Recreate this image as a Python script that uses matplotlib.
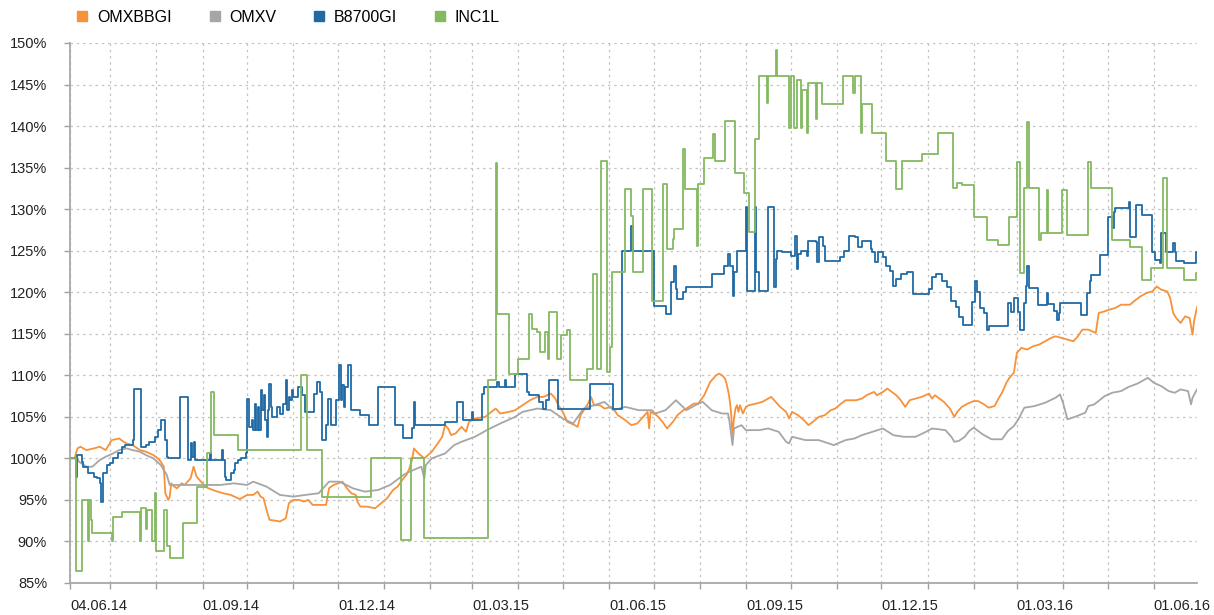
import matplotlib
matplotlib.use("Agg")
import matplotlib.pyplot as plt
import matplotlib.transforms as mtransforms
from matplotlib.lines import Line2D
import pandas as pd

plt.rcParams['font.family'] = ['Liberation Sans', 'DejaVu Sans']

# ---- data (values in %, dates dd.mm.yy) ----
omxbbgi_dates = [
    "04.06.14", "07.06.14", "09.06.14", "11.06.14", "15.06.14", "20.06.14", "24.06.14", "28.06.14",
    "02.07.14", "07.07.14", "10.07.14", "12.07.14", "16.07.14", "21.07.14", "25.07.14", "30.07.14",
    "02.08.14", "04.08.14", "06.08.14", "07.08.14", "09.08.14", "10.08.14", "11.08.14", "13.08.14",
    "15.08.14", "18.08.14", "20.08.14", "24.08.14", "26.08.14", "28.08.14", "01.09.14", "03.09.14",
    "05.09.14", "08.09.14", "11.09.14", "15.09.14", "20.09.14", "26.09.14", "01.10.14", "05.10.14",
    "08.10.14", "10.10.14", "12.10.14", "14.10.14", "16.10.14", "20.10.14", "23.10.14", "27.10.14",
    "29.10.14", "01.11.14", "05.11.14", "08.11.14", "11.11.14", "14.11.14", "23.11.14", "25.11.14",
    "28.11.14", "04.12.14", "07.12.14", "10.12.14", "13.12.14", "14.12.14", "16.12.14", "20.12.14",
    "26.12.14", "30.12.14", "03.01.15", "07.01.15", "10.01.15", "14.01.15", "16.01.15", "18.01.15",
    "20.01.15", "21.01.15", "24.01.15", "28.01.15", "02.02.15", "06.02.15", "09.02.15", "11.02.15",
    "13.02.15", "15.02.15", "18.02.15", "22.02.15", "25.02.15", "27.02.15", "03.03.15", "10.03.15",
    "14.03.15", "17.03.15", "20.03.15", "26.03.15", "30.03.15", "04.04.15", "09.04.15", "14.04.15",
    "18.04.15", "23.04.15", "26.04.15", "28.04.15", "01.05.15", "04.05.15", "09.05.15", "11.05.15",
    "13.05.15", "18.05.15", "20.05.15", "22.05.15", "26.05.15", "29.05.15", "03.06.15", "07.06.15",
    "12.06.15", "16.06.15", "20.06.15", "24.06.15", "27.06.15", "28.06.15", "29.06.15", "03.07.15",
    "07.07.15", "10.07.15", "14.07.15", "17.07.15", "21.07.15", "23.07.15", "28.07.15", "31.07.15",
    "04.08.15", "06.08.15", "08.08.15", "12.08.15", "14.08.15", "16.08.15", "18.08.15", "19.08.15",
    "20.08.15", "21.08.15", "22.08.15", "23.08.15", "24.08.15", "25.08.15", "26.08.15", "27.08.15",
    "28.08.15", "30.08.15", "01.09.15", "03.09.15", "08.09.15", "12.09.15", "18.09.15", "21.09.15",
    "24.09.15", "28.09.15", "30.09.15", "02.10.15", "06.10.15", "10.10.15", "13.10.15", "16.10.15",
    "20.10.15", "24.10.15", "28.10.15", "31.10.15", "04.11.15", "07.11.15", "11.11.15", "14.11.15",
    "18.11.15", "21.11.15", "26.11.15", "28.11.15", "02.12.15", "05.12.15", "08.12.15", "11.12.15",
    "14.12.15", "17.12.15", "20.12.15", "24.12.15", "28.12.15", "02.01.16", "04.01.16", "06.01.16",
    "09.01.16", "12.01.16", "16.01.16", "19.01.16", "21.01.16", "24.01.16", "28.01.16", "01.02.16",
    "04.02.16", "08.02.16", "11.02.16", "15.02.16", "18.02.16", "20.02.16", "23.02.16", "25.02.16",
    "28.02.16", "01.03.16", "04.03.16", "08.03.16", "12.03.16", "16.03.16", "20.03.16", "24.03.16",
    "27.03.16", "31.03.16", "04.04.16", "08.04.16", "11.04.16", "14.04.16", "18.04.16", "23.04.16",
    "25.04.16", "29.04.16", "02.05.16", "06.05.16", "10.05.16", "16.05.16", "20.05.16", "23.05.16",
    "27.05.16", "31.05.16", "03.06.16", "06.06.16", "10.06.16", "12.06.16", "14.06.16", "16.06.16",
    "19.06.16", "22.06.16", "25.06.16", "27.06.16", "28.06.16", "30.06.16",
]
omxbbgi_values = [
    100, 100, 101.2, 101.4, 101, 101.2, 101.4, 101,
    102.2, 102.4, 102, 101.8, 101.6, 101, 100.8, 100.4,
    100, 99.6, 99, 95.8, 95, 95.4, 97, 96.6,
    96.4, 97, 96.8, 97.6, 99, 97.8, 97, 96.6,
    96.4, 96.2, 96, 95.8, 95.6, 95.1, 95.6, 95.6,
    96, 95.4, 95.2, 93.8, 92.6, 92.5, 92.4, 92.8,
    94.6, 95, 95, 94.8, 95, 94.4, 94.4, 96.4,
    96.8, 97.2, 96.4, 95.8, 95.6, 94.8, 94.2, 94.2,
    94, 94.6, 95.2, 96.2, 96.6, 97.6, 98, 98.8,
    100, 101.2, 100.6, 100, 100.8, 101.8, 102.6, 104,
    103.6, 102.8, 103, 103.8, 103.2, 104.4, 104.8, 105,
    105.6, 106, 105.4, 105.6, 105.8, 106.4, 107, 107.4,
    107.4, 107.8, 107.2, 106.4, 105.6, 104.4, 104, 103.8,
    105.2, 106.6, 107.4, 106.4, 106.4, 106, 106.2, 105.2,
    104.6, 104, 104.2, 105, 105.6, 103.6, 105.6, 105.2,
    104.4, 103.6, 104.4, 105.2, 105.8, 106, 106.6, 106.6,
    107.6, 108.4, 109.2, 110, 110.2, 110, 109.6, 109,
    108.2, 107.2, 105.6, 102.8, 104.8, 106, 106.4, 105.6,
    106.4, 105.4, 106.2, 106.4, 106.6, 106.8, 107.4, 106.8,
    106.2, 105.6, 104.8, 105.6, 105.2, 104.6, 104, 104.4,
    105, 105.2, 105.8, 106, 106.6, 107, 107, 107,
    107.2, 107.6, 108, 107.6, 108, 108.4, 108, 107.6,
    107, 106.2, 107, 107.2, 107.4, 107.8, 107.2, 107.6,
    107.2, 106.8, 106, 105, 105.6, 106.2, 106.6, 106.9,
    106.9, 106.5, 106.1, 106.3, 107.3, 107.9, 109.1, 109.7,
    110.3, 112.7, 113.3, 113.1, 113.5, 113.7, 114.1, 114.5,
    114.7, 114.5, 114.3, 114.1, 114.7, 115.5, 115.5, 115.1,
    117.5, 117.7, 117.9, 118.1, 118.5, 118.5, 119.1, 119.5,
    119.9, 120.1, 120.7, 120.3, 120.1, 119.3, 117.5, 116.9,
    116.3, 117.1, 116.9, 114.9, 116.5, 118.2,
]

omxv_dates = [
    "04.06.14", "09.06.14", "10.06.14", "15.06.14", "19.06.14", "24.06.14", "28.06.14", "03.07.14",
    "07.07.14", "12.07.14", "16.07.14", "21.07.14", "25.07.14", "30.07.14", "04.08.14", "08.08.14",
    "10.08.14", "17.08.14", "26.08.14", "04.09.14", "13.09.14", "22.09.14", "01.10.14", "05.10.14",
    "14.10.14", "23.10.14", "01.11.14", "09.11.14", "18.11.14", "25.11.14", "02.12.14", "11.12.14",
    "19.12.14", "28.12.14", "05.01.15", "14.01.15", "18.01.15", "26.01.15", "28.01.15", "29.01.15",
    "02.02.15", "11.02.15", "17.02.15", "22.02.15", "03.03.15", "11.03.15", "20.03.15", "30.03.15",
    "04.04.15", "14.04.15", "23.04.15", "01.05.15", "08.05.15", "15.05.15", "22.05.15", "29.05.15",
    "04.06.15", "12.06.15", "21.06.15", "30.06.15", "02.07.15", "09.07.15", "16.07.15", "23.07.15",
    "29.07.15", "03.08.15", "09.08.15", "16.08.15", "20.08.15", "21.08.15", "23.08.15", "24.08.15",
    "29.08.15", "01.09.15", "10.09.15", "16.09.15", "23.09.15", "28.09.15", "30.09.15", "02.10.15",
    "11.10.15", "20.10.15", "30.10.15", "07.11.15", "13.11.15", "18.11.15", "25.11.15", "02.12.15",
    "09.12.15", "16.12.15", "24.12.15", "31.12.15", "04.01.16", "13.01.16", "17.01.16", "19.01.16",
    "22.01.16", "26.01.16", "29.01.16", "01.02.16", "07.02.16", "13.02.16", "20.02.16", "24.02.16",
    "28.02.16", "02.03.16", "06.03.16", "13.03.16", "20.03.16", "27.03.16", "30.03.16", "01.04.16",
    "04.04.16", "09.04.16", "16.04.16", "18.04.16", "22.04.16", "29.04.16", "04.05.16", "10.05.16",
    "15.05.16", "21.05.16", "28.05.16", "01.06.16", "06.06.16", "11.06.16", "15.06.16", "19.06.16",
    "24.06.16", "26.06.16", "27.06.16", "30.06.16",
]
omxv_values = [
    100, 100, 99.6, 99, 99, 99.8, 100.2, 100.6,
    101, 101.2, 101, 100.8, 100.4, 100, 99.2, 98,
    96.8, 96.8, 96.8, 96.8, 96.8, 97, 96.8, 97.2,
    96.6, 95.6, 95.4, 95.6, 95.8, 97.2, 97.2, 96.4,
    96, 96.2, 96.8, 98, 98.4, 99, 97.6, 99.2,
    100, 100.6, 101.6, 102, 102.6, 103.4, 104.2, 105,
    105.6, 106, 105.8, 104.8, 104.2, 106, 106.4, 106.8,
    105.8, 106.2, 105.8, 105.8, 105.4, 105.8, 107, 105.8,
    106.4, 106.8, 105.8, 105.4, 105.4, 104.4, 101.6, 103.6,
    104, 103.4, 103.4, 103.6, 103.2, 102, 101.8, 102.6,
    102.2, 102.2, 101.6, 102.2, 102.4, 102.8, 103.2, 103.6,
    102.8, 102.6, 102.6, 103.2, 103.6, 103.4, 102.6, 102,
    102.1, 102.6, 103.3, 103.7, 102.9, 102.3, 102.3, 103.3,
    103.9, 104.7, 106.1, 106.3, 106.7, 107.3, 107.7, 106.7,
    104.7, 105, 105.5, 106.3, 106.5, 107.5, 107.9, 108.1,
    108.6, 109, 109.7, 109.1, 108.7, 108.1, 107.9, 108.3,
    108.1, 106.5, 107.3, 108.3,
]

b8700gi_dates = [
    "04.06.14", "08.06.14", "09.06.14", "12.06.14", "13.06.14", "16.06.14", "20.06.14", "22.06.14",
    "24.06.14", "25.06.14", "26.06.14", "29.06.14", "01.07.14", "03.07.14", "06.07.14", "09.07.14",
    "11.07.14", "16.07.14", "17.07.14", "22.07.14", "25.07.14", "27.07.14", "31.07.14", "02.08.14",
    "04.08.14", "07.08.14", "08.08.14", "09.08.14", "17.08.14", "22.08.14", "24.08.14", "25.08.14",
    "26.08.14", "27.08.14", "06.09.14", "07.09.14", "14.09.14", "15.09.14", "16.09.14", "17.09.14",
    "20.09.14", "22.09.14", "23.09.14", "25.09.14", "27.09.14", "30.09.14", "01.10.14", "02.10.14",
    "04.10.14", "05.10.14", "06.10.14", "07.10.14", "08.10.14", "09.10.14", "10.10.14", "11.10.14",
    "12.10.14", "13.10.14", "14.10.14", "15.10.14", "16.10.14", "17.10.14", "18.10.14", "21.10.14",
    "23.10.14", "25.10.14", "27.10.14", "28.10.14", "29.10.14", "30.10.14", "31.10.14", "01.11.14",
    "04.11.14", "07.11.14", "09.11.14", "15.11.14", "17.11.14", "19.11.14", "20.11.14", "23.11.14",
    "24.11.14", "26.11.14", "30.11.14", "02.12.14", "03.12.14", "04.12.14", "05.12.14", "06.12.14",
    "08.12.14", "10.12.14", "16.12.14", "22.12.14", "28.12.14", "08.01.15", "14.01.15", "20.01.15",
    "21.01.15", "22.01.15", "11.02.15", "19.02.15", "23.02.15", "01.03.15", "02.03.15", "08.03.15",
    "09.03.15", "18.03.15", "19.03.15", "23.03.15", "24.03.15", "30.03.15", "07.04.15", "08.04.15",
    "15.04.15", "18.04.15", "20.04.15", "22.04.15", "28.04.15", "19.05.15", "04.06.15", "10.06.15",
    "16.06.15", "17.06.15", "01.07.15", "09.07.15", "13.07.15", "15.07.15", "16.07.15", "17.07.15",
    "21.07.15", "23.07.15", "09.08.15", "17.08.15", "20.08.15", "21.08.15", "23.08.15", "24.08.15",
    "26.08.15", "01.09.15", "02.09.15", "07.09.15", "08.09.15", "10.09.15", "16.09.15", "20.09.15",
    "21.09.15", "22.09.15", "25.09.15", "01.10.15", "04.10.15", "05.10.15", "06.10.15", "08.10.15",
    "12.10.15", "13.10.15", "18.10.15", "19.10.15", "20.10.15", "23.10.15", "24.10.15", "03.11.15",
    "06.11.15", "09.11.15", "13.11.15", "15.11.15", "18.11.15", "24.11.15", "25.11.15", "27.11.15",
    "29.11.15", "02.12.15", "04.12.15", "07.12.15", "09.12.15", "11.12.15", "14.12.15", "18.12.15",
    "22.12.15", "02.01.16", "04.01.16", "07.01.16", "11.01.16", "14.01.16", "17.01.16", "20.01.16",
    "22.01.16", "25.01.16", "31.01.16", "02.02.16", "03.02.16", "05.02.16", "08.02.16", "10.02.16",
    "11.02.16", "24.02.16", "26.02.16", "28.02.16", "02.03.16", "03.03.16", "06.03.16", "07.03.16",
    "08.03.16", "09.03.16", "15.03.16", "21.03.16", "22.03.16", "26.03.16", "28.03.16", "29.03.16",
    "30.03.16", "13.04.16", "17.04.16", "19.04.16", "20.04.16", "26.04.16", "01.05.16", "04.05.16",
    "05.05.16", "06.05.16", "15.05.16", "16.05.16", "20.05.16", "24.05.16", "31.05.16", "02.06.16",
    "05.06.16", "06.06.16", "09.06.16", "14.06.16", "15.06.16", "16.06.16", "21.06.16", "29.06.16",
    "30.06.16",
]
b8700gi_values = [
    100, 97.8, 100.4, 99.6, 99, 98.2, 97.8, 97.6,
    97, 94.8, 98.2, 99.2, 99.4, 100, 100.6, 101.4,
    101.6, 102.2, 108.4, 101.4, 101.6, 102, 102.6, 103.4,
    104.6, 102.2, 100.2, 100, 107.4, 99.8, 101.8, 100.2,
    102, 99.8, 100.6, 99.8, 101, 99.8, 97.8, 97.4,
    98.2, 98.6, 99.4, 99.8, 100, 100.6, 107.2, 103.8,
    104.6, 103.4, 106.6, 103.4, 106.2, 103.4, 108.2, 105.8,
    107.6, 104.6, 102.6, 105.8, 109, 106.2, 105, 106.2,
    105.4, 106.6, 109.4, 105.8, 107.4, 107, 108.2, 107.4,
    108.6, 107.6, 105.6, 107.8, 109.2, 108, 102.2, 104,
    107.2, 104, 107, 111.2, 107, 108.8, 106.2, 108.6,
    111.2, 105.8, 105.2, 104, 108.6, 104, 102.4, 103.6,
    106.8, 104, 104.4, 106.8, 104.6, 105.6, 104.6, 107.8,
    108.6, 109.2, 108.6, 109.4, 108.6, 110.2, 108, 107.6,
    106.8, 106, 107, 109.4, 106, 109, 106, 125,
    128, 125, 118.4, 117.4, 121.2, 123.2, 120.4, 119.2,
    120, 120.6, 122.2, 123.2, 124.6, 123.2, 119.6, 122.4,
    125, 130.2, 120.2, 130.2, 122.4, 120.2, 130.2, 120.6,
    124, 125, 124.8, 124.4, 126.8, 122.8, 124.6, 125,
    124.4, 126.2, 126, 123.6, 126.6, 125.6, 123.8, 124.2,
    125, 126.8, 126.6, 125.4, 126.2, 125.2, 124.8, 123.6,
    124.8, 124.2, 123.2, 122.6, 120.8, 121.6, 122.2, 122.4,
    119.8, 120.4, 121.8, 122.2, 121.4, 120.6, 119, 118.2,
    117, 116, 118.8, 121.3, 120, 118.1, 117.5, 115.5,
    115.9, 118.7, 117.6, 119.3, 117.6, 115.5, 118.7, 120.7,
    123.1, 120.5, 118.5, 119.9, 118.6, 117.8, 116.7, 117.5,
    118.7, 117.3, 119.9, 121.3, 122.1, 124.5, 129.1, 127.7,
    129.7, 130.1, 130.9, 126.7, 130.5, 129.3, 124.9, 123.9,
    123.5, 127.1, 124.9, 125.9, 124.9, 123.7, 123.5, 124.9,
    124.9,
]

inc1l_dates = [
    "04.06.14", "08.06.14", "12.06.14", "16.06.14", "17.06.14", "18.06.14", "19.06.14", "02.07.14",
    "03.07.14", "09.07.14", "21.07.14", "22.07.14", "25.07.14", "26.07.14", "29.07.14", "31.07.14",
    "01.08.14", "06.08.14", "08.08.14", "10.08.14", "19.08.14", "28.08.14", "04.09.14", "07.09.14",
    "09.09.14", "25.09.14", "06.11.14", "10.11.14", "20.11.14", "23.12.14", "12.01.15", "19.01.15",
    "28.01.15", "12.03.15", "17.03.15", "18.03.15", "26.03.15", "01.04.15", "08.04.15", "10.04.15",
    "14.04.15", "16.04.15", "19.04.15", "21.04.15", "22.04.15", "27.04.15", "30.04.15", "04.05.15",
    "06.05.15", "17.05.15", "21.05.15", "24.05.15", "27.05.15", "31.05.15", "02.06.15", "03.06.15",
    "12.06.15", "16.06.15", "17.06.15", "24.06.15", "30.06.15", "07.07.15", "10.07.15", "14.07.15",
    "15.07.15", "21.07.15", "22.07.15", "30.07.15", "31.07.15", "04.08.15", "10.08.15", "11.08.15",
    "18.08.15", "25.08.15", "31.08.15", "03.09.15", "07.09.15", "10.09.15", "15.09.15", "16.09.15",
    "21.09.15", "22.09.15", "30.09.15", "01.10.15", "03.10.15", "05.10.15", "08.10.15", "09.10.15",
    "12.10.15", "13.10.15", "18.10.15", "19.10.15", "22.10.15", "05.11.15", "12.11.15", "13.11.15",
    "17.11.15", "18.11.15", "25.11.15", "04.12.15", "11.12.15", "15.12.15", "28.12.15", "08.01.16",
    "18.01.16", "21.01.16", "24.01.16", "01.02.16", "10.02.16", "17.02.16", "25.02.16", "01.03.16",
    "03.03.16", "06.03.16", "08.03.16", "09.03.16", "16.03.16", "17.03.16", "21.03.16", "22.03.16",
    "31.03.16", "04.04.16", "18.04.16", "20.04.16", "04.05.16", "16.05.16", "24.05.16", "30.05.16",
    "07.06.16", "10.06.16", "21.06.16", "29.06.16", "30.06.16",
]
inc1l_values = [
    100, 86.4, 95, 90, 95, 92.6, 91, 90,
    93, 93.6, 90, 94, 91.5, 93.8, 90, 95.8,
    88.8, 93.8, 89.5, 88, 92.2, 96.6, 100.6, 108,
    102.8, 101, 110, 101, 95.4, 100, 90.2, 100,
    90.4, 109.4, 135.6, 117.4, 110.2, 112, 117.4, 115.6,
    115.2, 112.8, 115.2, 112, 117.6, 112, 114.8, 115.4,
    109.4, 110.8, 122.2, 110.8, 135.8, 110.4, 113.4, 122.4,
    132.4, 129.2, 122.4, 132.4, 119, 133, 125.2, 126.4,
    127.6, 137.2, 132.4, 125.6, 133, 136.2, 139, 135.8,
    140.6, 134.4, 132, 127.2, 138.4, 146, 142.8, 146,
    149.2, 146, 139.8, 146, 139.8, 145.5, 139.8, 144.4,
    139.2, 145.2, 140.8, 145.2, 142.6, 146, 144, 146,
    139.2, 142.6, 139.2, 135.8, 132.4, 135.8, 136.6, 139.2,
    132.6, 133.2, 132.9, 129.1, 126.3, 125.7, 129.1, 135.7,
    122.3, 132.5, 140.5, 132.5, 126.3, 127.1, 132.3, 127.1,
    132.3, 126.9, 135.7, 132.5, 126.3, 125.5, 121.5, 122.9,
    133.7, 122.9, 121.5, 122.3, 122.3,
]

series_names = ["OMXBBGI", "OMXV", "B8700GI", "INC1L"]
series_colors = ["#f7923a", "#a6a6a6", "#1f6aa5", "#84b960"]

label_dates = ["04.06.14", "01.09.14", "01.12.14", "01.03.15", "01.06.15",
               "01.09.15", "01.12.15", "01.03.16", "01.06.16"]
y_ticks = list(range(85, 151, 5))


def to_dates(lst):
    return pd.to_datetime(lst, format="%d.%m.%y")


fig = plt.figure(figsize=(12.14, 6.15), dpi=100)
ax = fig.add_axes([70 / 1214, 1 - 583 / 615, (1197 - 70) / 1214, (583 - 43) / 615])

series = [
    (omxbbgi_dates, omxbbgi_values, "default"),
    (omxv_dates, omxv_values, "default"),
    (b8700gi_dates, b8700gi_values, "steps-post"),
    (inc1l_dates, inc1l_values, "steps-post"),
]
for (d, v, style), name, col in zip(series, series_names, series_colors):
    ax.plot(to_dates(d), v, color=col, lw=1.3, drawstyle=style, label=name, zorder=3)

start = to_dates(["04.06.14"])[0]
end = to_dates(["30.06.16"])[0]
ax.set_xlim(start, end)
ax.set_ylim(85, 150)

# monthly ticks / grid, labels every quarter
months = pd.date_range("2014-07-01", "2016-06-01", freq="MS")
ticks = [start] + list(months)
labels_set = set(to_dates(label_dates))
ax.set_xticks(ticks)
ax.set_xticklabels([t.strftime("%d.%m.%y") if t in labels_set else "" for t in ticks])
for i, lab in enumerate(ax.get_xticklabels()):
    lab.set_ha("left")
    dx = -2 / 72 if i == 0 else 4 / 72
    lab.set_transform(lab.get_transform() + mtransforms.ScaledTranslation(dx, 0, fig.dpi_scale_trans))

ax.set_yticks(y_ticks)
ax.set_yticklabels([f"{t}%" for t in y_ticks])

ax.tick_params(axis="x", length=4.5, width=1, color="#a0a0a0", pad=7, labelsize=10.5, labelcolor="#222222")
ax.tick_params(axis="y", length=4.5, width=1, color="#a0a0a0", pad=12, labelsize=10.5, labelcolor="#222222")

ax.grid(True, color="#c4c4c4", linestyle=(0, (2, 3)), linewidth=0.9, zorder=0)
for s in ["top", "right"]:
    ax.spines[s].set_visible(False)
for s in ["left", "bottom"]:
    ax.spines[s].set_color("#a8a8a8")
    ax.spines[s].set_linewidth(1.3)

handles = [Line2D([], [], marker="s", linestyle="none", color=c, markersize=7) for c in series_colors]
fig.legend(handles, series_names, loc="center left", bbox_to_anchor=(76 / 1214, 1 - 17 / 615),
           ncol=4, frameon=False, fontsize=11.5, handlelength=0.8, handletextpad=0.5,
           columnspacing=2.3, borderpad=0, borderaxespad=0)

fig.savefig("out.png", dpi=100)
